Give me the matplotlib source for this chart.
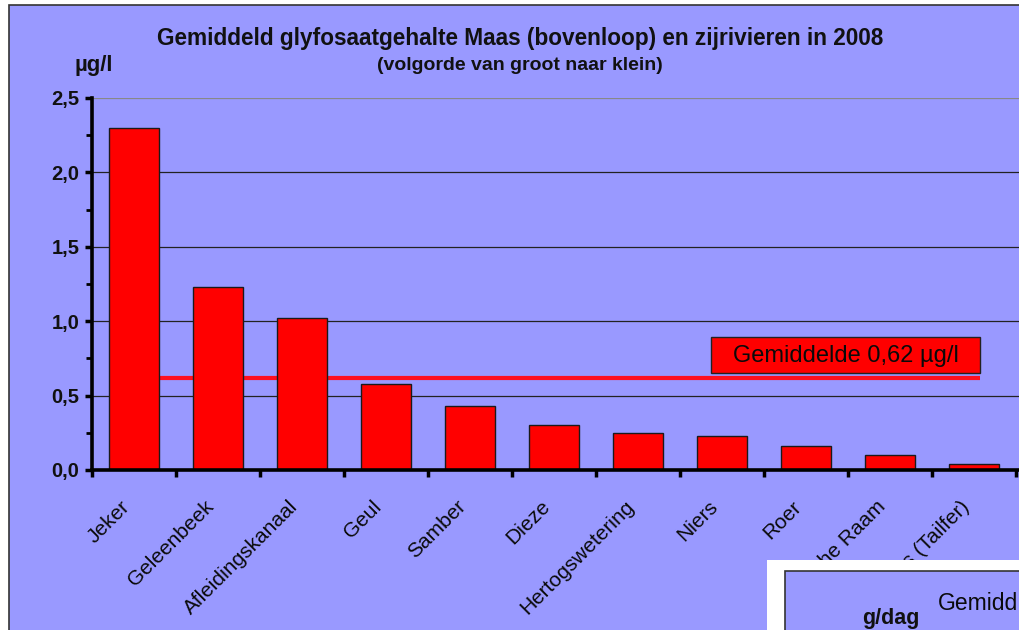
import matplotlib
matplotlib.use("Agg")
import matplotlib.pyplot as plt
import matplotlib.transforms as mtransforms
from matplotlib.patches import Rectangle, Polygon

plt.rcParams['font.family'] = ['Liberation Sans', 'DejaVu Sans']

categories = ["Jeker", "Geleenbeek", "Afleidingskanaal", "Geul", "Samber", "Dieze",
              "Hertogswetering", "Niers", "Roer", "Graafsche Raam", "Maas (Tailfer)"]
values = [2.30, 1.23, 1.02, 0.58, 0.43, 0.30, 0.25, 0.23, 0.16, 0.10, 0.04]
average = 0.62
yticks = [0.0, 0.5, 1.0, 1.5, 2.0, 2.5]
ytick_labels = ["0,0", "0,5", "1,0", "1,5", "2,0", "2,5"]

W, H = 1019, 630
BG = '#9999FF'
fig = plt.figure(figsize=(W / 100, H / 100), dpi=100)
fig.patch.set_facecolor('white')

def fx(px):
    return px / W

def fy(py):
    return 1 - py / H

# outer chart panel
fig.patches.append(Rectangle((fx(9), fy(640)), fx(1030) - fx(9), fy(5) - fy(640),
                             transform=fig.transFigure, facecolor=BG,
                             edgecolor='#333333', lw=1.2, zorder=-5))

ax = fig.add_axes([fx(92), fy(470), fx(1019) - fx(92), fy(98) - fy(470)])
ax.set_zorder(1)
ax.set_facecolor('none')
n = len(categories)
x = list(range(n))
ax.set_xlim(-0.5, n - 0.5 + 3 / 84)
ax.set_ylim(0, 2.5)

ax.bar(x, values, width=0.6, color='#FF0000', edgecolor='#1a1a1a', lw=1.0, zorder=3)
ax.hlines(average, 0, n - 1 + 0.07, color='#FF1020', lw=3.0, zorder=2)

# average label box
ax.add_patch(Rectangle((6.869, 0.652), 10.071 - 6.869, 0.894 - 0.652,
                       facecolor='#FF0000', edgecolor='#222222', lw=1.0, zorder=4))
ax.text((6.869 + 10.071) / 2, (0.652 + 0.894) / 2 - 0.005,
        "Gemiddelde " + f"{average:.2f}".replace('.', ',') + " µg/l",
        ha='center', va='center', fontsize=17, color='#0a0a0a', zorder=5)

# grid
ax.set_yticks(yticks)
ax.set_yticklabels(ytick_labels, fontsize=14.5, fontweight='bold', color='#111111')
ax.set_yticks([0.25, 0.75, 1.25, 1.75, 2.25], minor=True)
for yv in yticks[1:]:
    ax.axhline(yv, color='#888888' if yv == yticks[-1] else '#222222', lw=0.9, zorder=1)

ax.set_xticks([i + 0.5 for i in range(-1, n)])
ax.set_xticklabels([])
ax.tick_params(axis='x', which='major', direction='out', length=5, width=2.5, color='black')
ax.tick_params(axis='y', which='major', direction='out', length=5, width=2.5, color='black', pad=4)
ax.tick_params(axis='y', which='minor', direction='out', length=4, width=2, color='black')
ax.tick_params(axis='x', which='minor', length=0)

for s in ['top', 'right']:
    ax.spines[s].set_visible(False)
for s in ['left', 'bottom']:
    ax.spines[s].set_linewidth(2.6)
    ax.spines[s].set_color('black')
    ax.spines[s].set_zorder(6)

# region not covered by the overlapping second chart (labels are hidden behind it)
clip_poly = Polygon([(fx(0), fy(0)), (fx(W), fy(0)), (fx(W), fy(560)), (fx(767), fy(560)),
                     (fx(767), fy(H)), (fx(0), fy(H))], closed=True,
                    transform=fig.transFigure, facecolor='none', edgecolor='none')

offs = mtransforms.offset_copy(ax.transData, fig=fig, x=-14, y=-27, units='dots')
for i, c in enumerate(categories):
    t = ax.text(i, 0, c, transform=offs, rotation=45, ha='right', va='top',
                rotation_mode='anchor', fontsize=15, color='#0a0a0a', clip_on=True)
    t.set_clip_box(None)
    t.set_clip_path(clip_poly)

fig.text(fx(520), fy(38), "Gemiddeld glyfosaatgehalte Maas (bovenloop) en zijrivieren in 2008",
         ha='center', va='center', fontsize=16.3, fontweight='bold', color='#111111')
fig.text(fx(520), fy(66), "(volgorde van groot naar klein)",
         ha='center', va='center', fontsize=14, fontweight='bold', color='#111111')
fig.text(fx(94), fy(66), "µg/l", ha='center', va='center', fontsize=16,
         fontweight='bold', color='#111111')

# overlapping second chart (partially visible)
fig.patches.append(Rectangle((fx(767), fy(640)), fx(1030) - fx(767), fy(560) - fy(640),
                             transform=fig.transFigure, facecolor='white',
                             edgecolor='none', zorder=10))
fig.patches.append(Rectangle((fx(785), fy(640)), fx(1030) - fx(785), fy(571) - fy(640),
                             transform=fig.transFigure, facecolor=BG,
                             edgecolor='#333333', lw=1.2, zorder=11))
fig.text(fx(1018), fy(603), "Gemidd", ha='right', va='center',
         fontsize=16.5, color='#0a0a0a', zorder=12)
fig.text(fx(862), fy(629), "g/dag", ha='left', va='bottom',
         fontsize=15.5, fontweight='bold', color='#111111', zorder=12)

fig.savefig("out.png", dpi=100, facecolor=fig.get_facecolor())
